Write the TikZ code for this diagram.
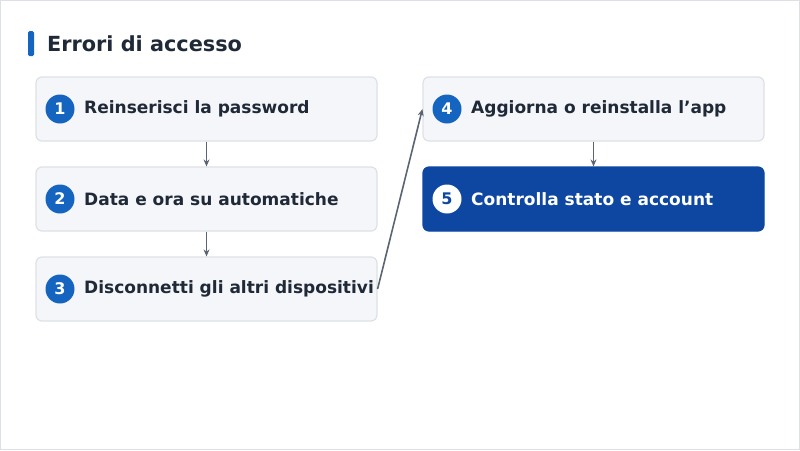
\documentclass[tikz,border=0pt]{standalone}
\usepackage{fontspec}
\setmainfont{DejaVu Sans}
\usetikzlibrary{arrows.meta}
\definecolor{boxfill}{HTML}{F5F6FA}
\definecolor{boxline}{HTML}{DDE1E6}
\definecolor{blu}{HTML}{1565C0}
\definecolor{dblu}{HTML}{0D47A1}
\definecolor{txt}{HTML}{1F2937}
\definecolor{arr}{HTML}{5A6472}
\begin{document}
\begin{tikzpicture}[x=1pt,y=-1pt,
  box/.style={draw=boxline,fill=boxfill,line width=1.2pt,rounded corners=6pt,minimum width=341pt,minimum height=64pt,inner sep=0pt},
  num/.style={circle,fill=blu,text=white,minimum size=29pt,inner sep=0pt,font=\bfseries\fontsize{16}{18}\selectfont},
  lab/.style={anchor=west,text=txt,font=\bfseries\fontsize{17}{20}\selectfont,inner sep=0pt},
  con/.style={draw=arr,line width=1.6pt,-{Stealth[length=7pt,width=6pt]}}]
\useasboundingbox (0,0) rectangle (800,450);
\draw[boxline,line width=1pt] (0.5,0.5) rectangle (799.5,449.5);
\fill[blu,rounded corners=1.5pt] (28,31) rectangle (34,56);
\node[anchor=west,text=txt,font=\bfseries\fontsize{20.8}{24}\selectfont,inner sep=0pt] (title) at (47,44) {Errori di accesso};
\node[box] (b1) at (206.5,109) {};
\node[box] (b2) at (206.5,199) {};
\node[box] (b3) at (206.5,289) {};
\node[box] (b4) at (593.5,109) {};
\node[box,fill=dblu,draw=dblu] (b5) at (593.5,199) {};
\node[num] (n1) at (60,109) {1};
\node[num] (n2) at (60,199) {2};
\node[num] (n3) at (60,289) {3};
\node[num] (n4) at (447,109) {4};
\node[num,fill=white,text=dblu] (n5) at (447,199) {5};
\node[lab] (t1) at (84,109) {Reinserisci la password};
\node[lab] (t2) at (84,199) {Data e ora su automatiche};
\node[lab] (t3) at (84,289) {Disconnetti gli altri dispositivi};
\node[lab] (t4) at (471,109) {Aggiorna o reinstalla l’app};
\node[lab,text=white] (t5) at (471,199) {Controlla stato e account};
\draw[con] (b1.south) -- (b2.north);
\draw[con] (b2.south) -- (b3.north);
\draw[con] (b3.east) -- (b4.west);
\draw[con] (b4.south) -- (b5.north);
\end{tikzpicture}
\end{document}
